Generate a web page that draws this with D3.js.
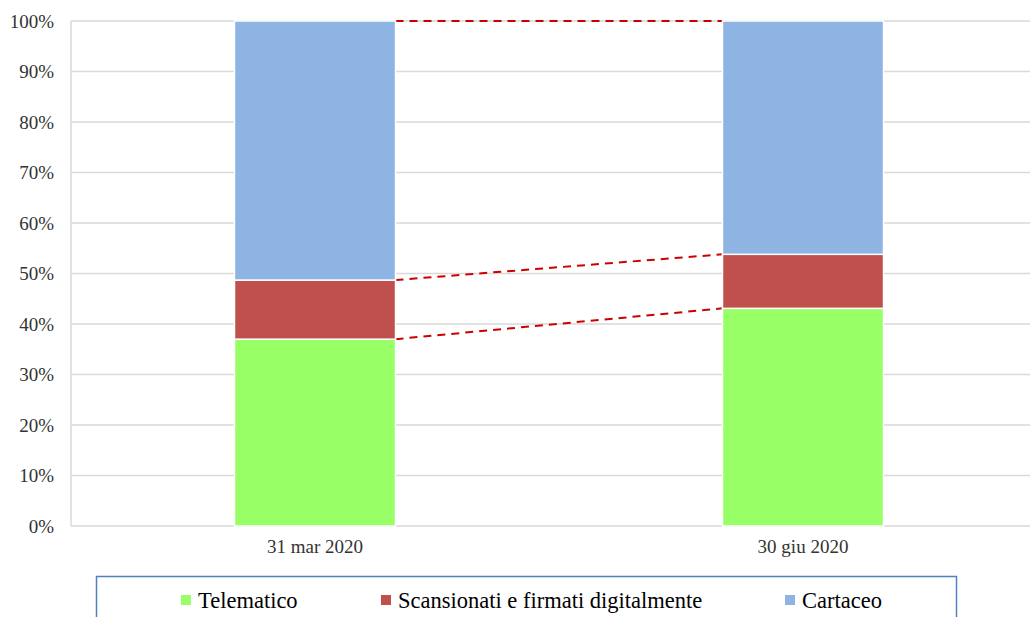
<!DOCTYPE html>
<html>
<head>
<meta charset="utf-8">
<script src="https://cdn.jsdelivr.net/npm/d3@7"></script>
<style>
  body { margin: 0; background: #fff; overflow: hidden; }
  svg text { font-family: "Liberation Serif", "DejaVu Serif", "Times New Roman", serif; }
</style>
</head>
<body>
<div id="chart"></div>
<script>
// data (shares, %)
const categories = ["31 mar 2020", "30 giu 2020"];
const seriesNames = ["Telematico", "Scansionati e firmati digitalmente", "Cartaceo"];
const telematico = [37.0, 43.1];
const scansionati = [11.7, 10.7];
const cartaceo = [51.3, 46.2];
const yTicks = [0, 10, 20, 30, 40, 50, 60, 70, 80, 90, 100];
const colors = ["#99ff66", "#c0504d", "#8eb4e3"];

const width = 1030, height = 617;
const margin = { left: 71, top: 21, right: -17, bottom: 91 };
const serif = '"Liberation Serif", "DejaVu Serif", serif';

const svg = d3.select("#chart").append("svg")
    .attr("width", width)
    .attr("height", height)
    .style("display", "block");

const x = d3.scaleBand()
    .domain(categories)
    .range([margin.left, width - margin.right])
    .paddingInner(0.67)
    .paddingOuter(0.335);

const y = d3.scaleLinear()
    .domain([0, 100])
    .range([height - margin.bottom, margin.top]);

// gridlines
svg.append("g")
    .selectAll("line")
    .data(yTicks)
    .enter()
    .append("line")
    .attr("x1", margin.left)
    .attr("x2", width - margin.right)
    .attr("y1", d => y(d))
    .attr("y2", d => y(d))
    .style("stroke", "#d9d9d9")
    .style("stroke-width", "1.5px");

// left axis line
svg.append("line")
    .attr("x1", margin.left).attr("x2", margin.left)
    .attr("y1", y(0)).attr("y2", y(100))
    .style("stroke", "#d9d9d9")
    .style("stroke-width", "1.5px");

// y labels
const yAxis = svg.append("g")
    .attr("transform", `translate(${margin.left},0)`)
    .call(d3.axisLeft(y).tickValues(yTicks).tickFormat(d => d + "%").tickSize(0).tickPadding(17));
yAxis.attr("font-family", serif).attr("font-size", 19);
yAxis.select(".domain").remove();
yAxis.selectAll("text").attr("fill", "#333");

// x labels
const xAxis = svg.append("g")
    .attr("transform", `translate(0,${y(0)})`)
    .call(d3.axisBottom(x).tickSize(0).tickPadding(14));
xAxis.attr("font-family", serif).attr("font-size", 19);
xAxis.select(".domain").remove();
xAxis.selectAll("text").attr("fill", "#333");

// stacked bars
const rows = categories.map((c, i) => ({
    cat: c,
    Telematico: telematico[i],
    "Scansionati e firmati digitalmente": scansionati[i],
    Cartaceo: cartaceo[i]
}));
const stacked = d3.stack().keys(seriesNames)(rows);

// connector lines (dashed red) between segment tops
const conn = svg.append("g");
stacked.forEach(layer => {
    conn.append("line")
        .attr("x1", x(categories[0]) + x.bandwidth())
        .attr("y1", y(layer[0][1]))
        .attr("x2", x(categories[1]))
        .attr("y2", y(layer[1][1]))
        .style("stroke", "#cc0000")
        .style("stroke-width", "2px")
        .style("stroke-dasharray", "8,6");
});

svg.append("g")
    .selectAll("g")
    .data(stacked)
    .enter()
    .append("g")
    .style("fill", (d, i) => colors[i])
    .selectAll("rect")
    .data(d => d)
    .enter()
    .append("rect")
    .attr("x", d => x(d.data.cat))
    .attr("width", x.bandwidth())
    .attr("y", d => y(d[1]))
    .attr("height", d => y(d[0]) - y(d[1]))
    .style("stroke", "#fff")
    .style("stroke-width", "1.5px");

// legend
svg.append("rect")
    .attr("x", 96.5).attr("y", 576.5)
    .attr("width", 860).attr("height", 60)
    .style("fill", "none")
    .style("stroke", "#4f81bd")
    .style("stroke-width", "1.5px");

const legendX = [181, 381, 785];
const legend = svg.append("g")
    .attr("font-family", serif)
    .attr("font-size", 22.5)
    .selectAll("g")
    .data(seriesNames)
    .enter()
    .append("g")
    .attr("transform", (d, i) => `translate(${legendX[i]},600)`);

legend.append("rect")
    .attr("x", 0).attr("y", -5)
    .attr("width", 10).attr("height", 10)
    .style("fill", (d, i) => colors[i]);

legend.append("text")
    .attr("x", 17)
    .attr("dy", "0.35em")
    .attr("fill", "#000")
    .text(d => d);
</script>
</body>
</html>
